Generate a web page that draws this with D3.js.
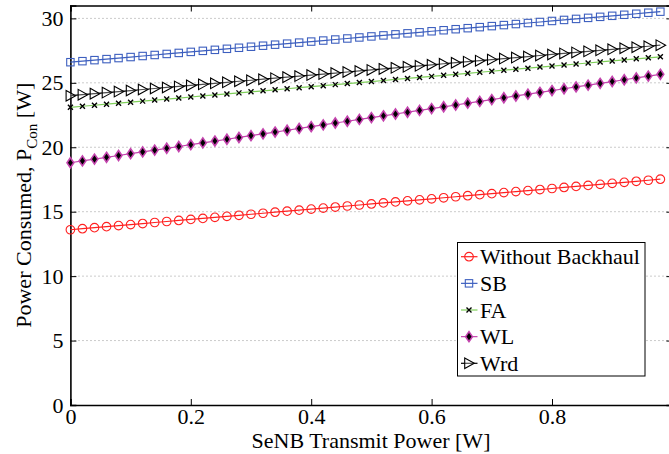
<!DOCTYPE html>
<html><head><meta charset="utf-8">
<script src="https://cdn.jsdelivr.net/npm/d3@7/dist/d3.min.js"></script>
<style>body{margin:0;background:#fff}svg{display:block}text{font-family:"Liberation Serif","Times New Roman",Times,serif;fill:#000}</style>
</head><body><svg id="c" width="669" height="454"></svg>
<script>
const xValues = [0,0.02,0.04,0.06,0.08,0.10,0.12,0.14,0.16,0.18,0.20,0.22,0.24,0.26,0.28,0.30,0.32,0.34,0.36,0.38,0.40,0.42,0.44,0.46,0.48,0.50,0.52,0.54,0.56,0.58,0.60,0.62,0.64,0.66,0.68,0.70,0.72,0.74,0.76,0.78,0.80,0.82,0.84,0.86,0.88,0.90,0.92,0.94,0.96,0.98];
const withoutBackhaul = [13.60,13.68,13.76,13.84,13.92,14.00,14.08,14.16,14.24,14.32,14.40,14.48,14.56,14.64,14.72,14.80,14.88,14.96,15.04,15.12,15.20,15.28,15.36,15.44,15.52,15.60,15.68,15.76,15.84,15.92,16.00,16.08,16.16,16.24,16.32,16.40,16.48,16.56,16.64,16.72,16.80,16.88,16.96,17.04,17.12,17.20,17.28,17.36,17.44,17.52];
const sb = [26.60,26.68,26.76,26.84,26.92,27.00,27.08,27.16,27.24,27.32,27.40,27.48,27.56,27.64,27.72,27.80,27.88,27.96,28.04,28.12,28.20,28.28,28.36,28.44,28.52,28.60,28.68,28.76,28.84,28.92,29.00,29.08,29.16,29.24,29.32,29.40,29.48,29.56,29.64,29.72,29.80,29.88,29.96,30.04,30.12,30.20,30.28,30.36,30.44,30.52];
const fa = [23.10,23.18,23.26,23.34,23.42,23.50,23.58,23.66,23.74,23.82,23.90,23.98,24.06,24.14,24.22,24.30,24.38,24.46,24.54,24.62,24.70,24.78,24.86,24.94,25.02,25.10,25.18,25.26,25.34,25.42,25.50,25.58,25.66,25.74,25.82,25.90,25.98,26.06,26.14,26.22,26.30,26.38,26.46,26.54,26.62,26.70,26.78,26.86,26.94,27.02];
const wl = [18.80,18.94,19.08,19.22,19.36,19.50,19.64,19.78,19.92,20.06,20.20,20.34,20.48,20.62,20.76,20.90,21.04,21.18,21.32,21.46,21.60,21.74,21.88,22.02,22.16,22.30,22.44,22.58,22.72,22.86,23.00,23.14,23.28,23.42,23.56,23.70,23.84,23.98,24.12,24.26,24.40,24.54,24.68,24.82,24.96,25.10,25.24,25.38,25.52,25.66];
const wrd = [24.00,24.08,24.16,24.24,24.32,24.40,24.48,24.56,24.64,24.72,24.80,24.88,24.96,25.04,25.12,25.20,25.28,25.36,25.44,25.52,25.60,25.68,25.76,25.84,25.92,26.00,26.08,26.16,26.24,26.32,26.40,26.48,26.56,26.64,26.72,26.80,26.88,26.96,27.04,27.12,27.20,27.28,27.36,27.44,27.52,27.60,27.68,27.76,27.84,27.92];
const seriesNames = ["Without Backhaul","SB","FA","WL","Wrd"];
const xTicks = [0,0.2,0.4,0.6,0.8];
const yTicks = [0,5,10,15,20,25,30];
const xLabel = "SeNB Transmit Power [W]";

const FONT = '"Liberation Serif","Times New Roman",Times,serif';
const styles = {
  "Without Backhaul": {color:"#ff2020", marker:"circle"},
  "SB": {color:"#3d5fbf", marker:"square"},
  "FA": {color:"#7fcf5a", marker:"cross"},
  "WL": {color:"#c444ae", marker:"diamond"},
  "Wrd": {color:"#000000", marker:"triangle"}
};
const seriesData = [withoutBackhaul, sb, fa, wl, wrd];

const svg = d3.select("#c");
const L = 70.4, R = 672.4, T = 5.5, B = 405;
const x = d3.scaleLinear().domain([0,1]).range([L,R]);
const y = d3.scaleLinear().domain([0,31]).range([B,T]);
const fs = 22;

// grid
svg.append("g").selectAll("line").data(yTicks.filter(d=>d>0)).join("line")
  .attr("x1",L).attr("x2",R).attr("y1",d=>y(d)).attr("y2",d=>y(d))
  .attr("stroke","#a8a8a8").attr("stroke-width",1).attr("stroke-dasharray","1.2,2.8");

// axes
const xa = svg.append("g").attr("transform",`translate(0,${B})`)
  .call(d3.axisBottom(x).tickValues(xTicks).tickSize(-6).tickPadding(9).tickFormat(d=>d===0?"0":d3.format(".1f")(d)));
const ya = svg.append("g").attr("transform",`translate(${L},0)`)
  .call(d3.axisLeft(y).tickValues(yTicks).tickSize(-6).tickPadding(7).tickFormat(d3.format("d")));
const xt = svg.append("g").attr("transform",`translate(0,${T})`)
  .call(d3.axisTop(x).tickValues(xTicks).tickSize(-6).tickFormat(""));
const yr = svg.append("g").attr("transform",`translate(${R},0)`)
  .call(d3.axisRight(y).tickValues(yTicks).tickSize(-6).tickFormat(""));
[xa,ya,xt,yr].forEach(g=>{
  g.attr("font-family",FONT).attr("font-size",fs);
  g.select(".domain").attr("stroke","#000").attr("stroke-width",1.6);
  g.selectAll(".tick line").attr("stroke","#000").attr("stroke-width",1);
  g.selectAll("text").attr("font-family",FONT).style("font-family",FONT).style("font-size",fs+"px").attr("fill","#000");
});
xa.selectAll(".tick text").attr("dy","0.45em");
ya.selectAll(".tick text").attr("dy","0.32em");

// markers
function drawMarker(g, type, color){
  if(type==="circle") g.append("circle").attr("r",4.3).attr("fill","none").attr("stroke",color).attr("stroke-width",1.1);
  else if(type==="square") g.append("rect").attr("x",-3.7).attr("y",-3.7).attr("width",7.4).attr("height",7.4).attr("fill","none").attr("stroke",color).attr("stroke-width",1.1);
  else if(type==="cross") g.append("path").attr("d","M-2.5,-2.5L2.5,2.5M-2.5,2.5L2.5,-2.5").attr("stroke","#000").attr("stroke-width",1.4);
  else if(type==="diamond") g.append("path").attr("d","M0,-5L3.4,0L0,5L-3.4,0Z").attr("fill","#000").attr("stroke",color).attr("stroke-width",1.6);
  else if(type==="triangle") g.append("path").attr("d","M-4.3,-5.3L5.3,0L-4.3,5.3Z").attr("fill","#fff").attr("fill-opacity",0.3).attr("stroke","#000").attr("stroke-width",1.1);
}

const line = d3.line().x((d,i)=>x(xValues[i])).y(d=>y(d));
const plot = svg.append("g");
seriesNames.forEach((name,k)=>{
  const st = styles[name], vals = seriesData[k];
  plot.append("path").datum(vals).attr("d",line).attr("fill","none").attr("stroke",st.color).attr("stroke-width",1.2);
  vals.forEach((v,i)=>{
    const g = plot.append("g").attr("transform",`translate(${x(xValues[i])},${y(v)})`);
    drawMarker(g, st.marker, st.color);
  });
});

// axis labels
svg.append("text").attr("x",371).attr("y",448).attr("text-anchor","middle")
  .style("font-family",FONT).style("font-size",fs+"px").text(xLabel);
const yl = svg.append("text").attr("transform",`translate(31,${(B+T)/2}) rotate(-90)`).attr("text-anchor","middle")
  .style("font-family",FONT).style("font-size",fs+"px");
yl.append("tspan").text("Power Consumed, P");
yl.append("tspan").attr("dy",6).style("font-size","15px").text("Con");
yl.append("tspan").attr("dy",-6).text(" [W]");

// legend
const lg = svg.append("g");
lg.append("rect").attr("x",457.5).attr("y",242.5).attr("width",187.5).attr("height",133.5).attr("fill","#fff").attr("stroke","#000").attr("stroke-width",1);
seriesNames.forEach((name,k)=>{
  const cy = 256.7 + k*26.65, st = styles[name];
  lg.append("line").attr("x1",461).attr("x2",477.5).attr("y1",cy).attr("y2",cy).attr("stroke",st.color).attr("stroke-width",1.2);
  drawMarker(lg.append("g").attr("transform",`translate(469,${cy})`), st.marker, st.color);
  lg.append("text").attr("x",480).attr("y",cy).attr("dy","0.35em").style("font-family",FONT).style("font-size",fs+"px").text(name);
});
</script></body></html>
